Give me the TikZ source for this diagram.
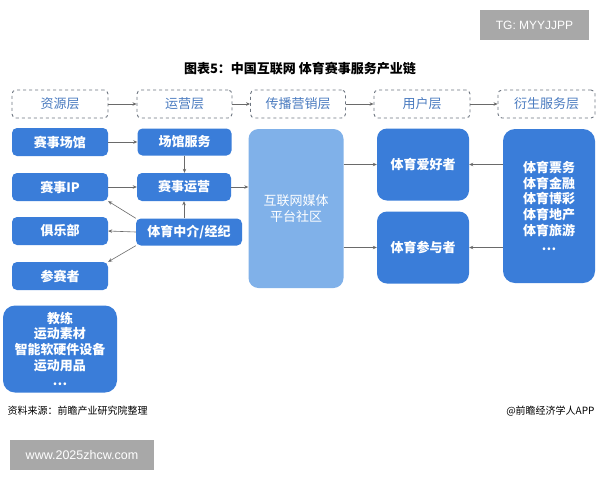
\documentclass[tikz,border=0pt]{standalone}
\usepackage{fontspec}
\setmainfont{Noto Sans CJK SC}
\newfontfamily\latinsans{Liberation Sans}
\usetikzlibrary{arrows.meta}
\definecolor{boxblue}{HTML}{3A7DD9}
\definecolor{lightbox}{HTML}{80B1E9}
\definecolor{headtext}{HTML}{4A7BC0}
\definecolor{dashgray}{HTML}{6E7681}
\definecolor{arrowgray}{HTML}{6A6A6A}
\definecolor{tagbg}{HTML}{A8A8A8}
\tikzset{
  x=1pt, y=-1pt,
  headbox/.style={draw=dashgray, dashed, line width=0.9pt, rounded corners=4pt,
    minimum width=96pt, minimum height=28pt, inner sep=0pt, text=headtext,
    font=\fontsize{13}{15}\selectfont, fill=white},
  bluebox/.style={fill=boxblue, rounded corners=5pt, text=white, inner sep=0pt,
    font=\fontsize{13}{15.5}\selectfont\bfseries, align=center},
  lightbigbox/.style={fill=lightbox, rounded corners=10pt, text=white, inner sep=0pt,
    font=\fontsize{13}{16}\selectfont, align=center},
  conn/.style={draw=arrowgray, line width=0.6pt, -{Stealth[length=4pt,width=3.5pt]}},
  tagbox/.style={fill=tagbg, text=white, inner sep=0pt, font=\latinsans\fontsize{12}{14}\selectfont}
}
\begin{document}
\begin{tikzpicture}
\path[use as bounding box, fill=white] (0,0) rectangle (600,480);

% watermark tags
\node[tagbox, minimum width=109pt, minimum height=30pt] (tg) at (534.5,25) {TG: MYYJJPP};
\node[tagbox, minimum width=144pt, minimum height=30pt, font=\latinsans\fontsize{12.5}{14}\selectfont] (www) at (82,455) {www.2025zhcw.com};

% title
\node[font=\fontsize{13}{15}\selectfont\bfseries] (title) at (300,69) {图表5：中国互联网 体育赛事服务产业链};

% header layer boxes
\node[headbox] (h1) at (60,104) {资源层};
\node[headbox, minimum width=95pt] (h2) at (184.5,104) {运营层};
\node[headbox, minimum width=95pt] (h3) at (298,104) {传播营销层};
\node[headbox] (h4) at (422,104) {用户层};
\node[headbox, minimum width=97pt] (h5) at (546.5,104) {衍生服务层};
\draw[conn] (h1) -- (h2);
\draw[conn] (h2) -- (h3);
\draw[conn] (h3) -- (h4);
\draw[conn] (h4) -- (h5);

% resource layer
\node[bluebox, minimum width=96pt, minimum height=28pt] (venue) at (60,142) {赛事场馆};
\node[bluebox, minimum width=96pt, minimum height=28pt] (ip) at (60,187) {赛事IP};
\node[bluebox, minimum width=96pt, minimum height=28pt] (club) at (60,231) {俱乐部};
\node[bluebox, minimum width=96pt, minimum height=28pt] (player) at (60,276) {参赛者};
\node[bluebox, minimum width=114pt, minimum height=87pt, rounded corners=12pt, font=\fontsize{13}{15.6}\selectfont\bfseries] (misc) at (60,349)
  {教练\\运动素材\\智能软硬件设备\\运动用品\\…};

% operation layer
\node[bluebox, minimum width=94pt, minimum height=27pt] (vserv) at (184.5,142) {场馆服务};
\node[bluebox, minimum width=94pt, minimum height=28pt] (oper) at (184,187) {赛事运营};
\node[bluebox, minimum width=106pt, minimum height=27pt] (agent) at (189,232) {体育中介/经纪};

% media layer
\node[lightbigbox, minimum width=95pt, minimum height=159pt] (media) at (296,208.5) {互联网媒体\\平台社区};

% user layer
\node[bluebox, minimum width=92pt, minimum height=72pt, rounded corners=10pt] (fans) at (423,164.5) {体育爱好者};
\node[bluebox, minimum width=92pt, minimum height=72pt, rounded corners=10pt] (part) at (423,247.5) {体育参与者};

% derivative layer
\node[bluebox, minimum width=92pt, minimum height=154pt, rounded corners=12pt, font=\fontsize{13}{15.7}\selectfont\bfseries] (deriv) at (549,206)
  {体育票务\\体育金融\\体育博彩\\体育地产\\体育旅游\\…};

% connectors
\draw[conn] (venue.east) -- (vserv.west);
\draw[conn] (vserv.south) -- (vserv.south |- oper.north);
\draw[conn] (ip.east) -- (oper.west);
\draw[conn] (oper.east) -- (media.west |- oper.east);
\draw[conn] (agent.north -| oper.south) -- (oper.south);
\draw[conn] (agent.north west) -- (ip.south east);
\draw[conn] (agent.west) -- (club.east);
\draw[conn] (agent.south west) -- (player.north east);
\draw[conn] (media.east |- fans.west) -- (fans.west);
\draw[conn] (media.east |- part.west) -- (part.west);
\draw[conn] (deriv.west |- fans.east) -- (fans.east);
\draw[conn] (deriv.west |- part.east) -- (part.east);

% footer
\node[anchor=west, font=\fontsize{10}{12}\selectfont] (src) at (4,411) {资料来源：前瞻产业研究院整理};
\node[anchor=east, font=\fontsize{10}{12}\selectfont] (app) at (598,411) {@前瞻经济学人APP};
\end{tikzpicture}
\end{document}
